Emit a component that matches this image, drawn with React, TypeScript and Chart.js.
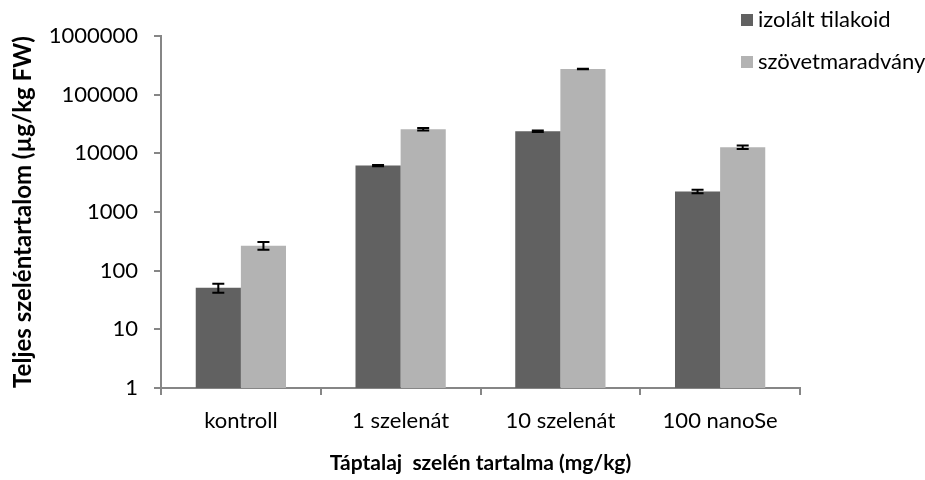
import React, { useEffect, useRef } from "react";
import { Chart, registerables } from "chart.js";

Chart.register(...registerables);

const categories = ["kontroll", "1 szelenát", "10 szelenát", "100 nanoSe"];
const seriesNames = ["izolált tilakoid", "szövetmaradvány"];
const tilakoid = [51, 6200, 23800, 2240];
const tilakoidErr = [9, 150, 800, 150];
const szovet = [267, 25700, 273000, 12700];
const szovetErr = [40, 1200, 3000, 900];
const yTicks = [1, 10, 100, 1000, 10000, 100000, 1000000];
const yTitle = "Teljes szeléntartalom (µg/kg FW)";
const xTitle = "Táptalaj  szelén tartalma (mg/kg)";

const DARK = "#616161";
const LIGHT = "#b3b3b3";
const AXIS = "#868686";
const FONT = "Lato, 'Open Sans', sans-serif";

const errors = [tilakoidErr, szovetErr];

const errorBarPlugin = {
  id: "errorBars",
  afterDatasetsDraw(chart: any) {
    const ctx = chart.ctx;
    const y = chart.scales.y;
    ctx.save();
    ctx.strokeStyle = "#000";
    ctx.lineWidth = 2;
    chart.data.datasets.forEach((ds: any, i: number) => {
      const meta = chart.getDatasetMeta(i);
      meta.data.forEach((bar: any, j: number) => {
        const v = ds.data[j];
        const e = errors[i][j];
        const yt = y.getPixelForValue(v + e);
        const yb = y.getPixelForValue(Math.max(v - e, 1e-9));
        const x = bar.x;
        ctx.beginPath();
        ctx.moveTo(x, yt);
        ctx.lineTo(x, yb);
        ctx.moveTo(x - 6, yt);
        ctx.lineTo(x + 6, yt);
        ctx.moveTo(x - 6, yb);
        ctx.lineTo(x + 6, yb);
        ctx.stroke();
      });
    });
    ctx.restore();
  },
};

const legendPlugin = {
  id: "customLegend",
  afterDraw(chart: any) {
    const ctx = chart.ctx;
    ctx.save();
    ctx.font = `22px ${FONT}`;
    ctx.textBaseline = "middle";
    chart.data.datasets.forEach((ds: any, i: number) => {
      const cy = 20 + i * 42;
      ctx.fillStyle = ds.backgroundColor;
      ctx.fillRect(741, cy - 6, 12, 12);
      ctx.fillStyle = "#000";
      ctx.fillText(ds.label, 758, cy);
    });
    ctx.restore();
  },
};

export default function App() {
  const ref = useRef<HTMLCanvasElement>(null);
  useEffect(() => {
    if (!ref.current) return;
    const chart = new Chart(ref.current, {
      type: "bar",
      data: {
        labels: categories,
        datasets: [
          { label: seriesNames[0], data: tilakoid, backgroundColor: DARK, categoryPercentage: 0.565, barPercentage: 1 },
          { label: seriesNames[1], data: szovet, backgroundColor: LIGHT, categoryPercentage: 0.565, barPercentage: 1 },
        ],
      },
      options: {
        responsive: false,
        animation: false,
        layout: { padding: { top: 36, right: 125, left: 0, bottom: 0 } },
        plugins: { legend: { display: false }, tooltip: { enabled: false } },
        scales: {
          x: {
            afterFit: (s: any) => { s.height = 92; },
            grid: { drawOnChartArea: false, color: AXIS, lineWidth: 2, tickLength: 7, offset: true },
            border: { color: AXIS, width: 2 },
            ticks: { color: "#000", padding: 13, font: { family: FONT, size: 22 } },
            title: { display: true, text: xTitle, color: "#000", font: { family: FONT, size: 21, weight: "bold" }, padding: { top: 0, bottom: 4 } },
          },
          y: {
            type: "logarithmic",
            min: 1,
            max: 1000000,
            afterFit: (s: any) => { s.width = 161; },
            afterBuildTicks: (s: any) => { s.ticks = yTicks.map((v) => ({ value: v })); },
            grid: { drawOnChartArea: false, color: AXIS, lineWidth: 2, tickLength: 7 },
            border: { color: AXIS, width: 2 },
            ticks: { color: "#000", padding: 16, font: { family: FONT, size: 22 }, callback: (v: any) => String(v) },
            title: { display: true, text: yTitle, color: "#000", font: { family: FONT, size: 24, weight: "bold" }, padding: { top: 9, bottom: 0 } },
          },
        },
      },
      plugins: [errorBarPlugin, legendPlugin],
    });
    return () => chart.destroy();
  }, []);
  return (
    <div style={{ position: "absolute", left: 0, top: 0, width: 925, height: 480, background: "#fff" }}>
      <canvas ref={ref} width={925} height={480} />
    </div>
  );
}
